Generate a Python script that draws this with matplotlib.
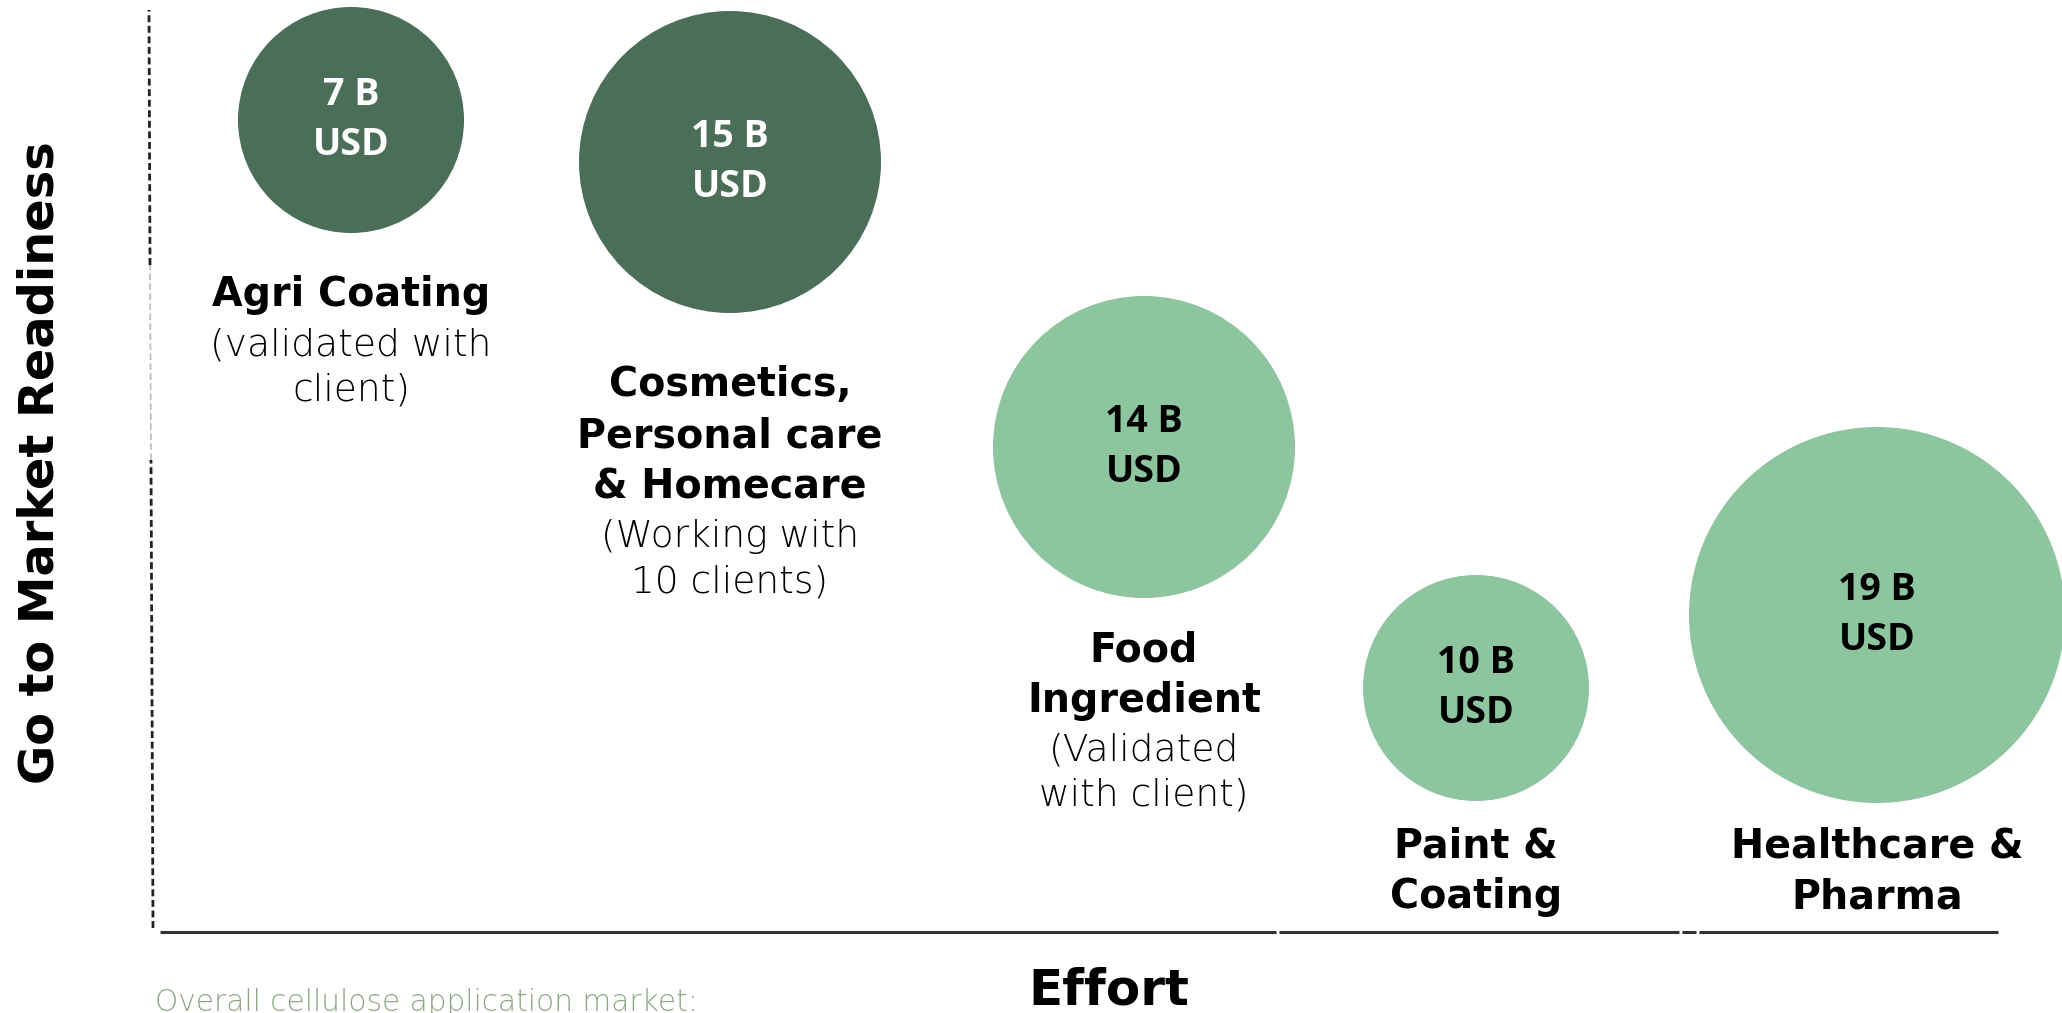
import matplotlib
matplotlib.use('Agg')
import matplotlib.pyplot as plt
from matplotlib.patches import Circle

# application segments, left to right along the effort axis
titles = ["Agri Coating", "Cosmetics,\nPersonal care\n& Homecare", "Food\nIngredient",
          "Paint &\nCoating", "Healthcare &\nPharma"]
subtitles = ["(validated with\nclient)", "(Working with\n10 clients)", "(Validated\nwith client)", "", ""]
market_usd_b = [7, 15, 14, 10, 19]
effort = [0.955, 2.85, 4.92, 6.58, 8.585]
readiness = [4.06, 3.85, 2.425, 1.22, 1.585]
bubble_r = [0.565, 0.755, 0.755, 0.565, 0.94]
validated = [True, True, False, False, False]

DARK = '#4A6E58'
LIGHT = '#8DC59F'

# where the first title line sits (center), per segment
label_y = [3.183, 2.733, 1.41, 0.428, 0.428]
title_step = 0.255
sub_step = 0.224

fig = plt.figure(figsize=(20.62, 10.13), dpi=100)
ax = fig.add_axes([0, 0, 1, 1])
ax.set_xlim(-0.8, 9.51)
ax.set_ylim(-0.405, 4.66)
ax.axis('off')

for i in range(len(titles)):
    col = DARK if validated[i] else LIGHT
    ax.add_patch(Circle((effort[i], readiness[i]), bubble_r[i], color=col, lw=0, zorder=2))
    tc = 'white' if validated[i] else 'black'
    ax.text(effort[i], readiness[i] + 0.125, f"{market_usd_b[i]} B", ha='center', va='center',
            fontsize=27, fontweight='bold', family='Open Sans', color=tc, zorder=3)
    ax.text(effort[i], readiness[i] - 0.125, "USD", ha='center', va='center',
            fontsize=27, fontweight='bold', family='Open Sans', color=tc, zorder=3)

    y = label_y[i]
    for line in titles[i].split('\n'):
        ax.text(effort[i], y, line, ha='center', va='center', fontsize=28.5,
                fontweight='bold', family='DejaVu Sans', color='black')
        y -= title_step
    y += title_step - 0.247
    if subtitles[i]:
        for line in subtitles[i].split('\n'):
            ax.text(effort[i], y, line, ha='center', va='center', fontsize=27,
                    fontweight='light', family='DejaVu Sans', color='black')
            y -= sub_step

# x axis (drawn in a few pieces like the original slide)
x_segments = [(0.0, 5.58), (5.595, 7.595), (7.61, 7.68), (7.695, 9.19)]
for a, b in x_segments:
    ax.plot([a, b], [0, 0], color='#333333', lw=2.2, solid_capstyle='butt')

# dashed y axis, with a faded stretch in the middle
ax.plot([-0.035, -0.045], [0.02, 2.36], color='#222222', lw=2, dashes=(2.5, 1.3))
ax.plot([-0.045, -0.05], [2.36, 3.335], color='#bbbbbb', lw=1.2, dashes=(4, 2))
ax.plot([-0.05, -0.055], [3.335, 4.61], color='#222222', lw=2, dashes=(2.5, 1.3))

ax.text(-0.6, 2.345, "Go to Market Readiness", rotation=90, ha='center', va='center',
        fontsize=34.5, fontweight='bold', family='DejaVu Sans', color='black')
ax.text(4.745, -0.17, "Effort", ha='center', va='top', fontsize=36,
        fontweight='bold', family='DejaVu Sans', color='black')
ax.text(-0.025, -0.28, "Overall cellulose application market:", ha='left', va='top',
        fontsize=21.3, fontweight='light', family='DejaVu Sans', color='#8EA587')

fig.savefig('out.png', dpi=100)
